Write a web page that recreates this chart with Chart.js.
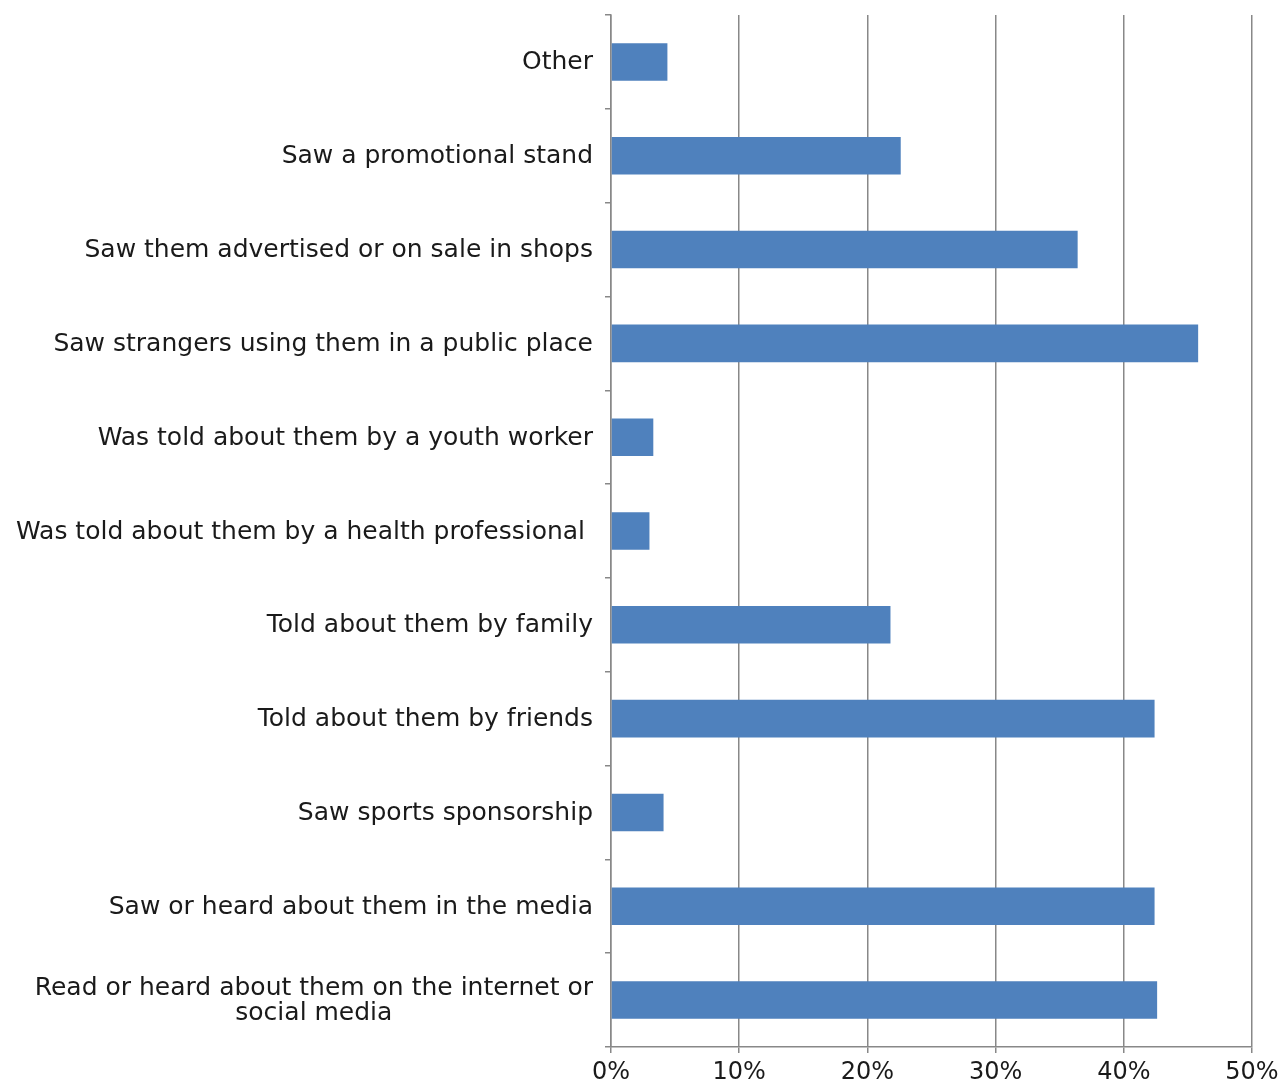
<!DOCTYPE html>
<html>
<head>
<meta charset="utf-8">
<script src="https://cdn.jsdelivr.net/npm/chart.js@4/dist/chart.umd.min.js"></script>
<style>
  html, body { margin: 0; padding: 0; background: #fff; }
  #wrap { width: 1278px; height: 1081px; position: relative; }
</style>
</head>
<body>
<div id="wrap"><canvas id="sourcesChart"></canvas></div>
<script>
const CATEGORIES = [
  'Other',
  'Saw a promotional stand',
  'Saw them advertised or on sale in shops',
  'Saw strangers using them in a public place',
  'Was told about them by a youth worker',
  'Was told about them by a health professional ',
  'Told about them by family',
  'Told about them by friends',
  'Saw sports sponsorship',
  'Saw or heard about them in the media',
  ['Read or heard about them on the internet or', 'social media'],
];
const SHARE_PCT = [4.4, 22.6, 36.4, 45.8, 3.3, 3.0, 21.8, 42.4, 4.1, 42.4, 42.6];
const X_TICKS = [0, 10, 20, 30, 40, 50];

const FONT_FAMILY = '"DejaVu Sans", Verdana, sans-serif';
const LABEL_FONT = '25px ' + FONT_FAMILY;
const LABEL_GAP = 18;
const LINE_HEIGHT = 25;

// category labels: single lines right-aligned, wrapped labels centred on their widest line
const categoryLabels = {
  id: 'categoryLabels',
  afterDraw(chart) {
    const scale = chart.scales.y;
    const ctx = chart.ctx;
    const xRight = scale.right - LABEL_GAP;
    ctx.save();
    ctx.font = LABEL_FONT;
    ctx.fillStyle = '#1a1a1a';
    ctx.textBaseline = 'middle';
    CATEGORIES.forEach((label, i) => {
      const y = scale.getPixelForTick(i) + 1;
      if (Array.isArray(label)) {
        const widest = Math.max(...label.map((l) => ctx.measureText(l).width));
        ctx.textAlign = 'center';
        const top = y - ((label.length - 1) * LINE_HEIGHT) / 2;
        label.forEach((line, j) => ctx.fillText(line, xRight - widest / 2, top + j * LINE_HEIGHT));
      } else {
        ctx.textAlign = 'right';
        ctx.fillText(label, xRight, y);
      }
    });
    ctx.restore();
  },
};

new Chart(document.getElementById('sourcesChart'), {
  type: 'bar',
  data: {
    labels: CATEGORIES,
    datasets: [{
      data: SHARE_PCT,
      backgroundColor: '#4f81bd',
      borderWidth: 0,
      categoryPercentage: 1,
      barPercentage: 0.4,
    }],
  },
  options: {
    indexAxis: 'y',
    responsive: true,
    maintainAspectRatio: false,
    animation: false,
    layout: { padding: { top: 15, right: 26, bottom: 0, left: 0 } },
    plugins: { legend: { display: false }, tooltip: { enabled: false } },
    scales: {
      x: {
        min: 0,
        max: 50,
        afterBuildTicks(scale) { scale.ticks = X_TICKS.map((v) => ({ value: v })); },
        afterFit(scale) {
          scale.height = 34;
          scale.paddingLeft = 0;
          scale.paddingRight = 0;
        },
        ticks: {
          padding: 5,
          color: '#1a1a1a',
          font: { family: FONT_FAMILY, size: 24 },
          callback: (v) => v + '%',
        },
        grid: { color: '#888', lineWidth: 1.5, tickLength: 6, drawTicks: true },
        border: { color: '#888', width: 1.5 },
      },
      y: {
        afterFit(scale) { scale.width = 611; },
        ticks: { display: false },
        grid: { drawOnChartArea: false, drawTicks: true, tickLength: 6, color: '#888', lineWidth: 1.5, offset: true },
        border: { color: '#888', width: 1.5 },
      },
    },
  },
  plugins: [categoryLabels],
});
</script>
</body>
</html>
